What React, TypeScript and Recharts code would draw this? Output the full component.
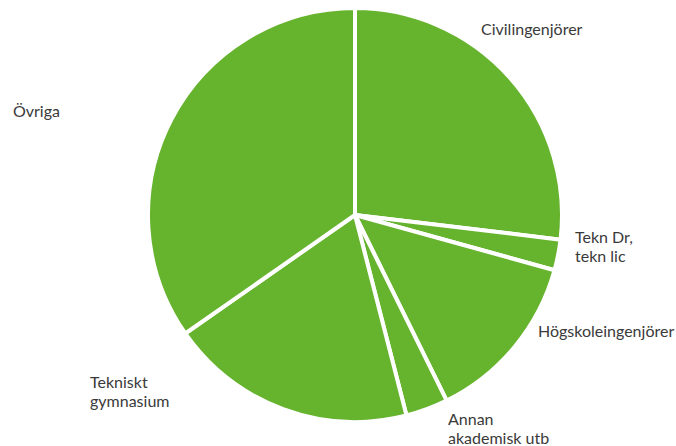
import { PieChart, Pie, Cell } from "recharts";

const CATEGORIES = [
  "Civilingenjörer",
  "Tekn Dr, tekn lic",
  "Högskoleingenjörer",
  "Annan akademisk utb",
  "Tekniskt gymnasium",
  "Övriga",
];
const SHARES = [26.9, 2.4, 13.4, 3.3, 19.3, 34.7];
const LABEL_LINES = [
  ["Civilingenjörer"],
  ["Tekn Dr,", "tekn lic"],
  ["Högskoleingenjörer"],
  ["Annan", "akademisk utb"],
  ["Tekniskt", "gymnasium"],
  ["Övriga"],
];

// label offsets relative to the pie centre
const LABEL_OFFSET = [
  [126, -187],
  [220, 21],
  [183, 115],
  [93, 203],
  [-265, 166],
  [-342, -105],
];

const GREEN = "#66b32e";

const data = CATEGORIES.map((name, i) => ({ name, value: SHARES[i] }));

function renderLabel(props: any) {
  const { cx, cy, index } = props;
  const [dx, dy] = LABEL_OFFSET[index];
  const lines = LABEL_LINES[index];
  return (
    <text
      key={index}
      x={cx + dx}
      y={cy + dy}
      fill="#3a3a3a"
      fontSize={16}
      fontFamily="Lato, 'Open Sans', sans-serif"
      textAnchor="start"
      dominantBaseline="central"
    >
      {lines.map((l, j) => (
        <tspan key={j} x={cx + dx} dy={j === 0 ? 0 : 19}>
          {l}
        </tspan>
      ))}
    </text>
  );
}

export default function App() {
  return (
    <div style={{ position: "fixed", left: 0, top: 0, width: 676, height: 446, background: "#fff" }}>
      <PieChart width={676} height={446} margin={{ top: 0, right: 0, bottom: 0, left: 0 }}>
        <Pie
          data={data}
          dataKey="value"
          nameKey="name"
          cx={355}
          cy={215}
          outerRadius={207}
          startAngle={90}
          endAngle={-270}
          stroke="#fff"
          strokeWidth={4}
          label={renderLabel}
          labelLine={false}
          isAnimationActive={false}
        >
          {data.map((_, i) => (
            <Cell key={i} fill={GREEN} />
          ))}
        </Pie>
      </PieChart>
    </div>
  );
}
